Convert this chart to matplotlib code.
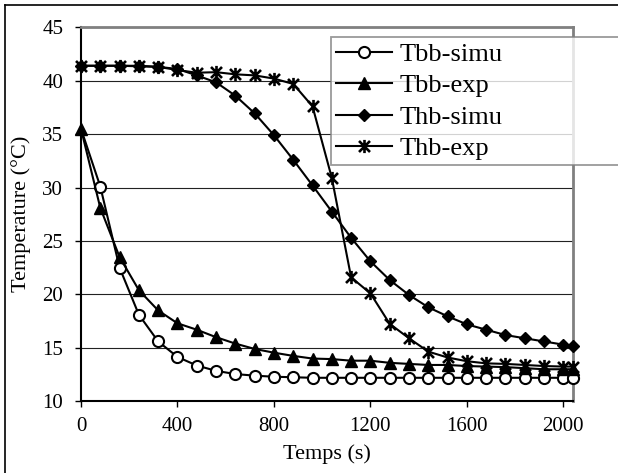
#!/usr/bin/env python3
"""Cooling curves: simulated vs. measured temperatures (Tbb / Thb)."""

import matplotlib
matplotlib.use("Agg")
import matplotlib.pyplot as plt
from matplotlib.lines import Line2D
from matplotlib.path import Path


TIME = [0, 80, 160, 240, 320, 400, 480, 560, 640, 720, 800, 880, 960, 1040,
        1120, 1200, 1280, 1360, 1440, 1520, 1600, 1680, 1760, 1840, 1920,
        2000, 2040]
TBB_SIMU = [35.5, 30.1, 22.5, 18.1, 15.6, 14.15, 13.35, 12.85, 12.55, 12.4,
            12.3, 12.25, 12.2, 12.2, 12.2, 12.2, 12.2, 12.2, 12.2, 12.2, 12.2,
            12.2, 12.2, 12.2, 12.2, 12.2, 12.2]
TBB_EXP = [35.5, 28.1, 23.5, 20.4, 18.5, 17.3, 16.7, 16.0, 15.4, 14.9, 14.55,
           14.25, 14.0, 13.95, 13.8, 13.8, 13.6, 13.5, 13.4, 13.4, 13.3,
           13.25, 13.2, 13.1, 13.0, 13.0, 13.0]
THB_SIMU = [41.4, 41.4, 41.4, 41.35, 41.3, 41.1, 40.5, 39.85, 38.6, 36.95,
            34.9, 32.6, 30.2, 27.75, 25.3, 23.1, 21.35, 19.95, 18.8, 17.95,
            17.2, 16.7, 16.2, 15.9, 15.6, 15.3, 15.2]
THB_EXP = [41.4, 41.4, 41.4, 41.4, 41.3, 41.0, 40.75, 40.8, 40.6, 40.5, 40.2,
           39.7, 37.6, 30.9, 21.6, 20.1, 17.25, 15.9, 14.65, 14.1, 13.75,
           13.55, 13.5, 13.4, 13.3, 13.25, 13.25]

LABELS = ["Tbb-simu", "Tbb-exp", "Thb-simu", "Thb-exp"]
X_TICKS = [0, 400, 800, 1200, 1600, 2000]
Y_TICKS = [10, 15, 20, 25, 30, 35, 40, 45]

# Excel-like star: an "x" with a vertical bar through it
STAR = Path([(-1, -1), (1, 1), (-1, 1), (1, -1), (0, -1.2), (0, 1.2)],
            [Path.MOVETO, Path.LINETO, Path.MOVETO, Path.LINETO,
             Path.MOVETO, Path.LINETO])

W, H = 618, 473


def main() -> None:
    plt.rcParams["font.family"] = ["Liberation Serif", "DejaVu Serif"]
    fig = plt.figure(figsize=(W / 100, H / 100), dpi=100)
    ax = fig.add_axes([81 / W, 1 - 401.3 / H, (573 - 81) / W, (401.3 - 27.3) / H])

    style = dict(color="black", linewidth=1.5, clip_on=False, zorder=3)
    ax.plot(TIME, TBB_SIMU, marker="o", markersize=8, markerfacecolor="white",
            markeredgewidth=1.5, markevery=slice(1, None), label=LABELS[0], **style)
    ax.plot(TIME, TBB_EXP, marker="^", markersize=8, label=LABELS[1], **style)
    ax.plot(TIME, THB_SIMU, marker="D", markersize=6, label=LABELS[2], **style)
    ax.plot(TIME, THB_EXP, marker=STAR, markersize=9.5, markeredgewidth=1.9,
            label=LABELS[3], **style)

    ax.set_xlim(0, 2040)
    ax.set_ylim(10, 45)
    ax.set_xticks(X_TICKS)
    ax.set_yticks(Y_TICKS)
    ax.tick_params(direction="out", length=4.3, width=1, labelsize=15,
                   colors="black")
    ax.tick_params(axis="x", pad=7)
    ax.tick_params(axis="y", pad=8.5)
    ax.yaxis.grid(True, color="#222222", linewidth=0.8)
    ax.set_axisbelow(True)

    for side in ("left", "bottom"):
        ax.spines[side].set_color("black")
        ax.spines[side].set_linewidth(1.5)
    for side in ("top", "right"):
        ax.spines[side].set_color("#808080")
        ax.spines[side].set_linewidth(2)

    ax.set_xlabel("Temps (s)", fontsize=16, labelpad=6)
    ax.set_ylabel("Temperature (°C)", fontsize=16, labelpad=8)

    leg = fig.legend(loc="upper left", bbox_to_anchor=(331 / W, 1 - 37.3 / H, 0.6, 0),
                     bbox_transform=fig.transFigure, mode="expand",
                     borderaxespad=0, fontsize=19, frameon=True, fancybox=False,
                     handlelength=2.1, handletextpad=0.3, labelspacing=0.3,
                     borderpad=0.2)
    leg.get_frame().set_edgecolor("#808080")
    leg.get_frame().set_linewidth(1.3)

    # outer chart-area frame (left and top edges visible)
    fig.add_artist(Line2D([4.5 / W, 4.5 / W], [0, 1 - 5 / H], color="black",
                          linewidth=1.2, transform=fig.transFigure))
    fig.add_artist(Line2D([4.5 / W, 1], [1 - 5 / H, 1 - 5 / H], color="black",
                          linewidth=1.2, transform=fig.transFigure))

    fig.savefig("out.png", dpi=100)
    plt.close(fig)


if __name__ == "__main__":
    main()
